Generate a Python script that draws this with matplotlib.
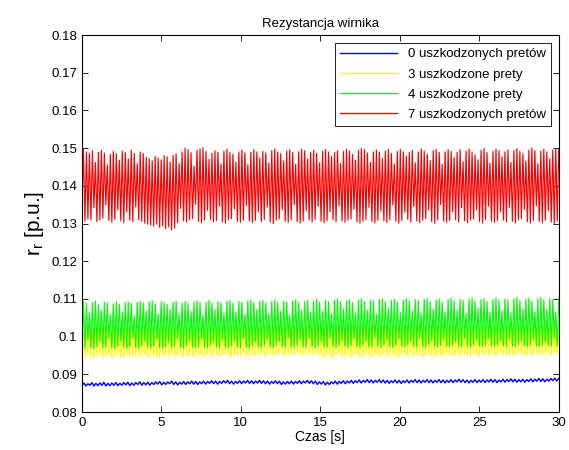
import numpy as np
import matplotlib
matplotlib.use("Agg")
import matplotlib.pyplot as plt

plt.rcParams['font.family'] = ['Liberation Sans', 'DejaVu Sans']

# peaks / troughs of each signal (alternating swings)
red_hi = [0.1497, 0.1490, 0.1486, 0.1493, 0.1462, 0.1489, 0.1494, 0.1487, 0.1455, 0.1483,
          0.1491, 0.1485, 0.1468, 0.1492, 0.1488, 0.1471, 0.1495, 0.1486, 0.1459, 0.1490,
          0.1486, 0.1476, 0.1472, 0.1466, 0.1478, 0.1474, 0.1469, 0.1480, 0.1477, 0.1463,
          0.1481, 0.1485, 0.1459, 0.1490, 0.1500, 0.1496, 0.1488, 0.1452, 0.1494, 0.1498,
          0.1501, 0.1491, 0.1470, 0.1486, 0.1493, 0.1489, 0.1458, 0.1492, 0.1497, 0.1488,
          0.1484, 0.1463, 0.1490, 0.1495, 0.1487, 0.1456, 0.1489, 0.1496, 0.1490, 0.1474,
          0.1491, 0.1487, 0.1460, 0.1493, 0.1498, 0.1490, 0.1485, 0.1466, 0.1492, 0.1495,
          0.1488, 0.1457, 0.1490, 0.1497, 0.1493, 0.1471, 0.1489, 0.1494, 0.1486, 0.1461,
          0.1492, 0.1496, 0.1490, 0.1478, 0.1488, 0.1493, 0.1459, 0.1491, 0.1497, 0.1492,
          0.1483, 0.1468, 0.1494, 0.1499, 0.1496, 0.1487, 0.1462, 0.1490, 0.1495, 0.1489,
          0.1473, 0.1492, 0.1497, 0.1486, 0.1458, 0.1491, 0.1496, 0.1490, 0.1479, 0.1488,
          0.1494, 0.1461, 0.1490, 0.1498, 0.1492, 0.1484, 0.1467, 0.1493, 0.1497, 0.1489,
          0.1457, 0.1490, 0.1495, 0.1491, 0.1475, 0.1489, 0.1496, 0.1464, 0.1492, 0.1498,
          0.1490, 0.1482, 0.1469, 0.1494, 0.1499, 0.1488, 0.1460, 0.1491, 0.1497, 0.1493,
          0.1477, 0.1490, 0.1495, 0.1462, 0.1493, 0.1499, 0.1491, 0.1485, 0.1466, 0.1494,
          0.1500, 0.1493, 0.1459, 0.1492, 0.1497, 0.1490, 0.1472, 0.1495, 0.1499, 0.1496]
red_lo = [0.1338, 0.1306, 0.1312, 0.1309, 0.1342, 0.1305, 0.1310, 0.1314, 0.1349, 0.1308,
          0.1303, 0.1311, 0.1336, 0.1307, 0.1302, 0.1331, 0.1309, 0.1305, 0.1344, 0.1310,
          0.1306, 0.1301, 0.1298, 0.1296, 0.1293, 0.1298, 0.1290, 0.1294, 0.1286, 0.1291,
          0.1283, 0.1288, 0.1302, 0.1340, 0.1307, 0.1304, 0.1310, 0.1313, 0.1351, 0.1306,
          0.1302, 0.1309, 0.1335, 0.1311, 0.1305, 0.1308, 0.1346, 0.1304, 0.1301, 0.1310,
          0.1313, 0.1339, 0.1306, 0.1303, 0.1309, 0.1348, 0.1307, 0.1302, 0.1308, 0.1332,
          0.1305, 0.1311, 0.1344, 0.1304, 0.1300, 0.1309, 0.1312, 0.1337, 0.1306, 0.1303,
          0.1310, 0.1350, 0.1305, 0.1301, 0.1307, 0.1334, 0.1309, 0.1304, 0.1311, 0.1345,
          0.1306, 0.1302, 0.1308, 0.1331, 0.1310, 0.1305, 0.1347, 0.1307, 0.1303, 0.1309,
          0.1312, 0.1338, 0.1304, 0.1301, 0.1306, 0.1311, 0.1343, 0.1305, 0.1302, 0.1309,
          0.1333, 0.1307, 0.1303, 0.1310, 0.1349, 0.1306, 0.1301, 0.1308, 0.1330, 0.1311,
          0.1304, 0.1345, 0.1307, 0.1302, 0.1309, 0.1313, 0.1336, 0.1305, 0.1301, 0.1310,
          0.1350, 0.1306, 0.1303, 0.1308, 0.1332, 0.1310, 0.1304, 0.1342, 0.1307, 0.1302,
          0.1309, 0.1312, 0.1337, 0.1305, 0.1301, 0.1311, 0.1346, 0.1306, 0.1303, 0.1308,
          0.1331, 0.1309, 0.1304, 0.1343, 0.1306, 0.1302, 0.1310, 0.1313, 0.1338, 0.1305,
          0.1301, 0.1308, 0.1347, 0.1306, 0.1302, 0.1309, 0.1334, 0.1304, 0.1300, 0.1307]

green_hi = [0.1092, 0.1088, 0.1062, 0.1090, 0.1094, 0.1085, 0.1070, 0.1091, 0.1089, 0.1058,
            0.1087, 0.1093, 0.1086, 0.1066, 0.1090, 0.1092, 0.1088, 0.1055, 0.1091, 0.1094,
            0.1089, 0.1068, 0.1092, 0.1095, 0.1087, 0.1060, 0.1093, 0.1090, 0.1086, 0.1072,
            0.1091, 0.1094, 0.1061, 0.1089, 0.1093, 0.1088, 0.1067, 0.1092, 0.1095, 0.1090,
            0.1058, 0.1091, 0.1096, 0.1089, 0.1071, 0.1093, 0.1090, 0.1063, 0.1094, 0.1096,
            0.1088, 0.1066, 0.1093, 0.1091, 0.1059, 0.1095, 0.1097, 0.1090, 0.1072, 0.1094,
            0.1096, 0.1089, 0.1061, 0.1093, 0.1097, 0.1091, 0.1068, 0.1094, 0.1092, 0.1057,
            0.1095, 0.1098, 0.1090, 0.1070, 0.1093, 0.1096, 0.1064, 0.1094, 0.1099, 0.1091,
            0.1067, 0.1096, 0.1093, 0.1060, 0.1097, 0.1099, 0.1092, 0.1073, 0.1095, 0.1098,
            0.1090, 0.1062, 0.1096, 0.1100, 0.1093, 0.1069, 0.1097, 0.1094, 0.1059, 0.1098,
            0.1100, 0.1092, 0.1074, 0.1096, 0.1099, 0.1091, 0.1063, 0.1097, 0.1101, 0.1094,
            0.1068, 0.1098, 0.1095, 0.1061, 0.1099, 0.1101, 0.1093, 0.1072, 0.1097, 0.1100,
            0.1092, 0.1064, 0.1098, 0.1102, 0.1095, 0.1070, 0.1099, 0.1096, 0.1062, 0.1100,
            0.1103, 0.1094, 0.1075, 0.1098, 0.1101, 0.1093, 0.1065, 0.1099, 0.1103, 0.1096,
            0.1069, 0.1100, 0.1097, 0.1063, 0.1101, 0.1104, 0.1095, 0.1073, 0.1099, 0.1102,
            0.1094, 0.1066, 0.1100, 0.1104, 0.1097, 0.1071, 0.1101, 0.1098, 0.1064, 0.1102]
green_lo = [0.0972, 0.0969, 0.0990, 0.0971, 0.0968, 0.0974, 0.0986, 0.0970, 0.0973, 0.0995,
            0.0971, 0.0968, 0.0975, 0.0988, 0.0972, 0.0969, 0.0974, 0.0997, 0.0971, 0.0970,
            0.0976, 0.0987, 0.0972, 0.0969, 0.0975, 0.0993, 0.0971, 0.0970, 0.0974, 0.0985,
            0.0972, 0.0975, 0.0996, 0.0971, 0.0969, 0.0976, 0.0989, 0.0972, 0.0970, 0.0974,
            0.0994, 0.0972, 0.0970, 0.0977, 0.0986, 0.0973, 0.0971, 0.0992, 0.0972, 0.0970,
            0.0976, 0.0988, 0.0973, 0.0971, 0.0995, 0.0972, 0.0970, 0.0975, 0.0985, 0.0973,
            0.0971, 0.0977, 0.0993, 0.0973, 0.0971, 0.0976, 0.0987, 0.0974, 0.0972, 0.0996,
            0.0973, 0.0971, 0.0977, 0.0989, 0.0973, 0.0972, 0.0994, 0.0974, 0.0971, 0.0976,
            0.0986, 0.0974, 0.0972, 0.0995, 0.0973, 0.0971, 0.0977, 0.0988, 0.0974, 0.0972,
            0.0976, 0.0993, 0.0973, 0.0972, 0.0977, 0.0987, 0.0974, 0.0973, 0.0996, 0.0974,
            0.0972, 0.0978, 0.0989, 0.0974, 0.0972, 0.0977, 0.0994, 0.0974, 0.0973, 0.0978,
            0.0987, 0.0975, 0.0973, 0.0995, 0.0974, 0.0972, 0.0978, 0.0988, 0.0975, 0.0973,
            0.0977, 0.0993, 0.0975, 0.0973, 0.0978, 0.0986, 0.0975, 0.0974, 0.0996, 0.0975,
            0.0973, 0.0979, 0.0989, 0.0975, 0.0974, 0.0978, 0.0994, 0.0976, 0.0974, 0.0978,
            0.0987, 0.0976, 0.0974, 0.0995, 0.0975, 0.0973, 0.0979, 0.0988, 0.0976, 0.0974,
            0.0978, 0.0993, 0.0976, 0.0974, 0.0979, 0.0986, 0.0976, 0.0975, 0.0996, 0.0976]

yellow_hi = [0.1022, 0.1016, 0.1027, 0.1011, 0.1020, 0.1025, 0.1008, 0.1028, 0.1019, 0.1013,
             0.1024, 0.1017, 0.1006, 0.1026, 0.1021, 0.1012, 0.1027, 0.1018, 0.1009, 0.1025,
             0.1022, 0.1014, 0.1028, 0.1019, 0.1007, 0.1026, 0.1023, 0.1012, 0.1029, 0.1020,
             0.1010, 0.1027, 0.1022, 0.1015, 0.1028, 0.1018, 0.1008, 0.1027, 0.1024, 0.1013,
             0.1029, 0.1021, 0.1011, 0.1028, 0.1023, 0.1016, 0.1030, 0.1019, 0.1009, 0.1028,
             0.1025, 0.1014, 0.1030, 0.1022, 0.1012, 0.1029, 0.1024, 0.1017, 0.1031, 0.1020,
             0.1010, 0.1029, 0.1026, 0.1015, 0.1031, 0.1023, 0.1013, 0.1030, 0.1025, 0.1018,
             0.1032, 0.1021, 0.1011, 0.1030, 0.1027, 0.1016, 0.1032, 0.1024, 0.1014, 0.1031,
             0.1023, 0.1017, 0.1028, 0.1012, 0.1021, 0.1026, 0.1009, 0.1029, 0.1020, 0.1014,
             0.1025, 0.1018, 0.1007, 0.1027, 0.1022, 0.1013, 0.1028, 0.1019, 0.1010, 0.1026,
             0.1023, 0.1015, 0.1029, 0.1020, 0.1008, 0.1027, 0.1024, 0.1013, 0.1030, 0.1021,
             0.1011, 0.1028, 0.1023, 0.1016, 0.1029, 0.1019, 0.1009, 0.1028, 0.1025, 0.1014,
             0.1030, 0.1022, 0.1012, 0.1029, 0.1024, 0.1017, 0.1031, 0.1020, 0.1010, 0.1029,
             0.1026, 0.1015, 0.1031, 0.1023, 0.1013, 0.1030, 0.1025, 0.1018, 0.1032, 0.1021,
             0.1011, 0.1030, 0.1027, 0.1016, 0.1032, 0.1024, 0.1014, 0.1031, 0.1026, 0.1019,
             0.1033, 0.1022, 0.1012, 0.1031, 0.1028, 0.1017, 0.1033, 0.1025, 0.1015, 0.1032]
yellow_lo = [0.0948, 0.0944, 0.0951, 0.0946, 0.0943, 0.0949, 0.0952, 0.0945, 0.0947, 0.0950,
             0.0944, 0.0948, 0.0953, 0.0946, 0.0945, 0.0950, 0.0947, 0.0944, 0.0951, 0.0949,
             0.0946, 0.0952, 0.0945, 0.0948, 0.0950, 0.0946, 0.0944, 0.0951, 0.0948, 0.0947,
             0.0953, 0.0946, 0.0949, 0.0951, 0.0945, 0.0948, 0.0952, 0.0947, 0.0946, 0.0950,
             0.0948, 0.0946, 0.0953, 0.0949, 0.0947, 0.0951, 0.0946, 0.0949, 0.0954, 0.0948,
             0.0947, 0.0952, 0.0949, 0.0947, 0.0954, 0.0950, 0.0948, 0.0952, 0.0947, 0.0950,
             0.0955, 0.0949, 0.0948, 0.0953, 0.0950, 0.0948, 0.0955, 0.0951, 0.0949, 0.0953,
             0.0950, 0.0949, 0.0956, 0.0951, 0.0950, 0.0954, 0.0952, 0.0950, 0.0956, 0.0952,
             0.0949, 0.0945, 0.0952, 0.0947, 0.0944, 0.0950, 0.0953, 0.0946, 0.0948, 0.0951,
             0.0945, 0.0949, 0.0954, 0.0947, 0.0946, 0.0951, 0.0948, 0.0945, 0.0952, 0.0950,
             0.0947, 0.0953, 0.0946, 0.0949, 0.0951, 0.0947, 0.0945, 0.0952, 0.0949, 0.0948,
             0.0954, 0.0947, 0.0950, 0.0952, 0.0946, 0.0949, 0.0953, 0.0948, 0.0947, 0.0951,
             0.0949, 0.0947, 0.0954, 0.0950, 0.0948, 0.0952, 0.0947, 0.0950, 0.0955, 0.0949,
             0.0948, 0.0953, 0.0950, 0.0948, 0.0955, 0.0951, 0.0949, 0.0953, 0.0948, 0.0951,
             0.0956, 0.0950, 0.0949, 0.0954, 0.0951, 0.0949, 0.0956, 0.0952, 0.0950, 0.0954,
             0.0951, 0.0950, 0.0957, 0.0952, 0.0951, 0.0955, 0.0953, 0.0951, 0.0957, 0.0953]

blue_hi = [0.0877, 0.0875, 0.0878, 0.0876, 0.0877, 0.0879, 0.0876, 0.0877, 0.0878, 0.0876,
           0.0878, 0.0879, 0.0877, 0.0878, 0.0880, 0.0878, 0.0879, 0.0878, 0.0880, 0.0881,
           0.0879, 0.0880, 0.0882, 0.0880, 0.0879, 0.0881, 0.0880, 0.0882, 0.0881, 0.0880,
           0.0882, 0.0881, 0.0883, 0.0882, 0.0881, 0.0883, 0.0884, 0.0882, 0.0881, 0.0883,
           0.0882, 0.0884, 0.0883, 0.0882, 0.0884, 0.0883, 0.0882, 0.0881, 0.0883, 0.0882,
           0.0880, 0.0881, 0.0882, 0.0881, 0.0883, 0.0882, 0.0884, 0.0883, 0.0882, 0.0880,
           0.0881, 0.0879, 0.0880, 0.0882, 0.0881, 0.0883, 0.0882, 0.0884, 0.0883, 0.0885,
           0.0884, 0.0886, 0.0885, 0.0884, 0.0886, 0.0885, 0.0884, 0.0883, 0.0885, 0.0884,
           0.0883, 0.0885, 0.0884, 0.0886, 0.0885, 0.0884, 0.0886, 0.0885, 0.0884, 0.0886,
           0.0885, 0.0884, 0.0886, 0.0885, 0.0887, 0.0886, 0.0885, 0.0884, 0.0886, 0.0885,
           0.0886, 0.0885, 0.0887, 0.0886, 0.0885, 0.0887, 0.0886, 0.0888, 0.0887, 0.0886,
           0.0887, 0.0886, 0.0888, 0.0887, 0.0889, 0.0888, 0.0887, 0.0889, 0.0890, 0.0889]
blue_lo = [0.0870, 0.0869, 0.0871, 0.0869, 0.0870, 0.0871, 0.0869, 0.0870, 0.0871, 0.0870,
           0.0871, 0.0872, 0.0870, 0.0871, 0.0873, 0.0871, 0.0872, 0.0871, 0.0873, 0.0874,
           0.0872, 0.0873, 0.0875, 0.0873, 0.0872, 0.0874, 0.0873, 0.0875, 0.0874, 0.0873,
           0.0875, 0.0874, 0.0876, 0.0875, 0.0874, 0.0876, 0.0877, 0.0875, 0.0874, 0.0876,
           0.0875, 0.0877, 0.0876, 0.0875, 0.0877, 0.0876, 0.0875, 0.0874, 0.0876, 0.0875,
           0.0873, 0.0874, 0.0875, 0.0874, 0.0876, 0.0875, 0.0877, 0.0876, 0.0875, 0.0873,
           0.0874, 0.0872, 0.0873, 0.0875, 0.0874, 0.0876, 0.0875, 0.0877, 0.0876, 0.0878,
           0.0877, 0.0879, 0.0878, 0.0877, 0.0879, 0.0878, 0.0877, 0.0876, 0.0878, 0.0877,
           0.0876, 0.0878, 0.0877, 0.0879, 0.0878, 0.0877, 0.0879, 0.0878, 0.0877, 0.0879,
           0.0878, 0.0877, 0.0879, 0.0878, 0.0880, 0.0879, 0.0878, 0.0877, 0.0879, 0.0878,
           0.0879, 0.0878, 0.0880, 0.0879, 0.0878, 0.0880, 0.0879, 0.0881, 0.0880, 0.0879,
           0.0880, 0.0879, 0.0881, 0.0880, 0.0882, 0.0881, 0.0880, 0.0882, 0.0883, 0.0882]

labels = ['0 uszkodzonych pretów', '3 uszkodzone prety',
          '4 uszkodzone prety', '7 uszkodzonych pretów']
colors = ['#0000ff', '#ffff00', '#00ff00', '#ff0000']
t_end = 30


def swing(lo, hi):
    # alternate trough / peak values into one signal
    y = np.column_stack([lo, hi]).ravel()
    t = np.linspace(0, t_end, len(y))
    return t, y


fig = plt.figure(figsize=(5.69, 4.5), dpi=100)
ax = fig.add_axes([0.144, 0.0844, 0.838, 0.8378])

series = [(blue_lo, blue_hi), (yellow_lo, yellow_hi),
          (green_lo, green_hi), (red_lo, red_hi)]
widths = [1.0, 0.85, 0.85, 0.85]
for (lo, hi), c, lab, w in zip(series, colors, labels, widths):
    t, y = swing(lo, hi)
    ax.plot(t, y, color=c, lw=w, label=lab)

ax.set_xlim(0, 30)
ax.set_ylim(0.08, 0.18)
ax.set_xticks(np.arange(0, 31, 5))
ax.set_yticks(np.arange(0.08, 0.181, 0.01))
ax.set_yticklabels(['0.08', '0.09', '0.1', '0.11', '0.12', '0.13',
                    '0.14', '0.15', '0.16', '0.17', '0.18'])
ax.tick_params(direction='in', top=True, right=True, labelsize=9.5,
               length=4, width=0.6)
for s in ax.spines.values():
    s.set_linewidth(0.8)

ax.set_title('Rezystancja wirnika', fontsize=9.5, pad=6)
ax.set_xlabel('Czas [s]', fontsize=10, labelpad=1)
ax.set_ylabel(r'$\mathregular{r_r}$ [p.u.]', fontsize=15, labelpad=4)

leg = ax.legend(loc='upper right', fontsize=9.5, fancybox=False,
                edgecolor='black', framealpha=1, handlelength=4.3,
                borderaxespad=0.6, labelspacing=0.6, borderpad=0.4)
leg.get_frame().set_linewidth(0.6)
for ln in leg.get_lines():
    ln.set_linewidth(1.0)

fig.savefig('out.png', dpi=100)
